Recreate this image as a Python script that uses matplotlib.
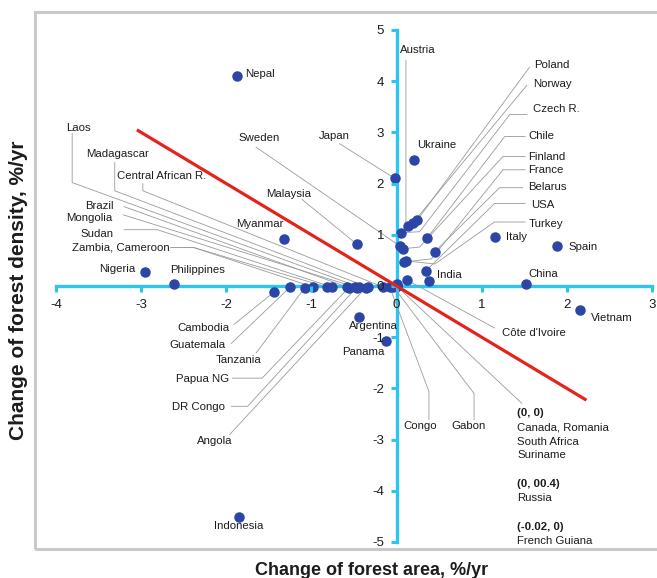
import matplotlib.pyplot as plt
from matplotlib.patches import Rectangle

plt.rcParams['font.family'] = ['Liberation Sans', 'DejaVu Sans']

# annual change of forest area (x) and forest density (y), %/yr
countries = [
    "Nepal", "Ukraine", "Japan", "Italy", "Spain", "China", "Vietnam",
    "Argentina", "Panama", "Indonesia", "Nigeria", "Philippines", "Myanmar",
    "Malaysia", "Poland", "Norway", "Austria", "Czech R.", "Chile", "Sweden",
    "Finland", "Belarus", "France", "USA", "Turkey", "India", "Côte d'Ivoire",
    "Russia", "Canada", "Romania", "South Africa", "Suriname", "French Guiana",
    "Cambodia", "Guatemala", "Tanzania", "Zambia", "Cameroon", "Sudan",
    "Brazil", "Mongolia", "Laos", "Madagascar", "Central African R.",
    "Papua NG", "DR Congo", "Angola", "Congo", "Gabon",
]
area_change = [
    -1.88, 0.21, -0.02, 1.16, 1.89, 1.52, 2.15,
    -0.44, -0.12, -1.85, -2.95, -2.61, -1.32,
    -0.47, 0.24, 0.19, 0.14, 0.05, 0.36, 0.04,
    0.08, 0.45, 0.09, 0.34, 0.11, 0.38, 0.12,
    0.0, 0.0, 0.0, 0.0, 0.0, -0.02,
    -1.44, -1.25, -1.08, -0.98, -0.82, -0.76,
    -0.58, -0.49, -0.44, -0.34, -0.16,
    -0.56, -0.47, -0.36, -0.08, -0.04,
]
density_change = [
    4.10, 2.47, 2.10, 0.96, 0.78, 0.04, -0.47,
    -0.61, -1.08, -4.51, 0.27, 0.04, 0.92,
    0.82, 1.28, 1.23, 1.17, 1.04, 0.94, 0.78,
    0.73, 0.67, 0.47, 0.29, 0.49, 0.10, 0.12,
    0.04, 0.0, 0.0, 0.0, 0.0, 0.0,
    -0.12, -0.02, -0.04, -0.02, -0.02, -0.02,
    -0.02, -0.02, -0.02, -0.02, -0.02,
    -0.03, -0.03, -0.03, -0.02, -0.01,
]

x_ticks = [-4, -3, -2, -1, 0, 1, 2, 3]
y_ticks = [-5, -4, -3, -2, -1, 0, 1, 2, 3, 4, 5]

# label text, text x, text y, alignment, leader waypoints, countries the leader runs to
labels = [
    ("Nepal", -1.78, 4.14, "left", None, []),
    ("Ukraine", 0.24, 2.76, "left", None, []),
    ("Italy", 1.28, 0.96, "left", None, []),
    ("Spain", 2.02, 0.77, "left", None, []),
    ("China", 1.55, 0.24, "left", None, []),
    ("Vietnam", 2.28, -0.63, "left", None, []),
    ("Argentina", -0.27, -0.78, "center", None, []),
    ("Panama", -0.39, -1.29, "center", None, []),
    ("Indonesia", -1.86, -4.69, "center", None, []),
    ("Nigeria", -3.07, 0.33, "right", None, []),
    ("Philippines", -2.66, 0.32, "left", None, []),
    ("Myanmar", -1.61, 1.22, "center", None, []),
    ("India", 0.47, 0.21, "left", None, []),
    ("Japan", -0.91, 2.92, "left", [(-0.67, 2.78)], ["Japan"]),
    ("Sweden", -1.86, 2.90, "left", [(-1.65, 2.71)], ["Sweden"]),
    ("Malaysia", -1.53, 1.80, "left", [(-1.11, 1.69)], ["Malaysia"]),
    ("Laos", -3.88, 3.08, "left", [(-3.81, 2.98), (-3.81, 2.02)], ["Laos"]),
    ("Madagascar", -3.65, 2.57, "left", [(-3.31, 2.41), (-3.31, 1.86)], ["Madagascar"]),
    ("Central African R.", -3.28, 2.14, "left", [(-2.98, 2.00), (-2.98, 1.86)],
     ["Central African R."]),
    ("Brazil", -3.32, 1.57, "right", [(-3.20, 1.55)], ["Brazil"]),
    ("Mongolia", -3.34, 1.33, "right", [(-3.21, 1.39)], ["Mongolia"]),
    ("Sudan", -3.33, 1.02, "right", [(-3.20, 1.10), (-2.81, 1.10)], ["Sudan"]),
    ("Zambia, Cameroon", -2.67, 0.75, "right", [(-2.65, 0.75), (-2.38, 0.75)],
     ["Zambia", "Cameroon"]),
    ("Cambodia", -1.96, -0.82, "right", [(-1.91, -0.75)], ["Cambodia"]),
    ("Guatemala", -2.01, -1.16, "right", [(-1.94, -1.12)], ["Guatemala"]),
    ("Tanzania", -1.59, -1.45, "right", [(-1.65, -1.31)], ["Tanzania"]),
    ("Papua NG", -1.97, -1.82, "right", [(-1.93, -1.80), (-1.58, -1.80)], ["Papua NG"]),
    ("DR Congo", -2.02, -2.37, "right", [(-1.94, -2.35), (-1.75, -2.35)], ["DR Congo"]),
    ("Angola", -2.13, -3.02, "center", [(-1.96, -2.90)], ["Angola"]),
    ("Congo", 0.28, -2.73, "center", [(0.38, -2.61), (0.38, -2.06)], ["Congo"]),
    ("Gabon", 0.85, -2.73, "center", [(0.91, -2.61), (0.91, -2.10)], ["Gabon"]),
    ("Côte d'Ivoire", 1.24, -0.92, "left", [(1.15, -0.82)], ["Côte d'Ivoire"]),
    ("Austria", 0.035, 4.61, "left", [(0.11, 4.41), (0.11, 1.25)], ["Austria"]),
    ("Poland", 1.62, 4.31, "left", [(1.56, 4.27)], ["Poland"]),
    ("Norway", 1.60, 3.94, "left", [(1.53, 3.92)], ["Norway"]),
    ("Czech R.", 1.60, 3.45, "left", [(1.53, 3.35), (1.33, 3.35), (0.27, 1.06)],
     ["Czech R."]),
    ("Chile", 1.55, 2.92, "left", [(1.51, 2.92), (1.27, 2.92)], ["Chile"]),
    ("Finland", 1.55, 2.52, "left", [(1.51, 2.53), (1.25, 2.53), (0.27, 0.76)],
     ["Finland"]),
    ("France", 1.55, 2.27, "left", [(1.51, 2.27), (1.25, 2.27), (0.41, 0.53)],
     ["France"]),
    ("Belarus", 1.55, 1.94, "left", [(1.48, 1.92), (1.21, 1.92)], ["Belarus"]),
    ("USA", 1.58, 1.59, "left", [(1.51, 1.61), (1.15, 1.61)], ["USA"]),
    ("Turkey", 1.55, 1.22, "left", [(1.51, 1.25), (1.15, 1.25), (0.45, 0.43)],
     ["Turkey"]),
    ("", 0, 0, "left", [(1.47, -2.29)], ["Canada"]),
]

# notes for countries sitting on the origin
notes = [
    ("(0, 0)", -2.49, "bold"),
    ("Canada, Romania", -2.76, "normal"),
    ("South Africa", -3.04, "normal"),
    ("Suriname", -3.31, "normal"),
    ("(0, 00.4)", -3.86, "bold"),
    ("Russia", -4.14, "normal"),
    ("(-0.02, 0)", -4.71, "bold"),
    ("French Guiana", -4.98, "normal"),
]

axis_blue = '#2ec4f2'
dot_blue = '#2c46a6'
text_col = '#1c1c1c'
lead_col = '#9a9a9a'

fig = plt.figure(figsize=(6.57, 5.78), dpi=100)
ax = fig.add_axes([56 / 657, 1 - 542 / 578, 596 / 657, 512 / 578])
ax.set_xlim(-4, 3)
ax.set_ylim(-5, 5)

# grey frame round the chart, open to the right edge
fig.patches.append(Rectangle((35 / 657, 1 - 549 / 578), 1.2, 537 / 578,
                             transform=fig.transFigure, fill=False,
                             ec='#c9c9c9', lw=2.2))

for side in ['top', 'right']:
    ax.spines[side].set_visible(False)
ax.spines['left'].set_position(('data', 0))
ax.spines['bottom'].set_position(('data', 0))
for side in ['left', 'bottom']:
    ax.spines[side].set_color(axis_blue)
    ax.spines[side].set_linewidth(2.4)
    ax.spines[side].set_zorder(1)

ax.set_xticks(x_ticks)
ax.set_yticks(y_ticks)
ax.set_xticklabels([str(t) for t in x_ticks])
ax.set_yticklabels([str(t) for t in y_ticks])
ax.tick_params(axis='both', direction='out', length=4, width=2.2,
               color=axis_blue, labelcolor=text_col, labelsize=9.5)
ax.tick_params(axis='x', pad=5)
ax.tick_params(axis='y', pad=5)
ax.xaxis.set_zorder(3.5)
ax.yaxis.set_zorder(3.5)
ax.patch.set_visible(False)

# leader lines from labels to their dots
idx = {c: i for i, c in enumerate(countries)}
for text, tx, ty, ha, path, targets in labels:
    if text:
        ax.text(tx, ty, text, ha=ha, va='center', fontsize=8.2, color=text_col,
                zorder=5)
    if path:
        for c in targets:
            xs = [p[0] for p in path] + [area_change[idx[c]]]
            ys = [p[1] for p in path] + [density_change[idx[c]]]
            ax.plot(xs, ys, color=lead_col, lw=0.6, zorder=2, clip_on=False)

for text, ty, weight in notes:
    ax.text(1.42, ty, text, ha='left', va='center', fontsize=8.2,
            fontweight=weight, color=text_col, zorder=5)

ax.scatter(area_change, density_change, s=57, color=dot_blue, linewidths=0,
           zorder=3, clip_on=False)

# line of no change in growing stock: density change = -area change
line_x = [-3.05, 2.23]
ax.plot(line_x, [-v for v in line_x], color='#e5231b', lw=2.3, zorder=4,
        solid_capstyle='butt')

fig.text(372 / 657, 1 - 575 / 578, "Change of forest area, %/yr", ha='center',
         va='baseline', fontsize=13, fontweight='bold', color=text_col)
fig.text(19 / 657, 1 - 290 / 578, "Change of forest density, %/yr", ha='center',
         va='center', rotation=90, fontsize=15, fontweight='bold', color=text_col)

fig.savefig('out.png', dpi=100)
